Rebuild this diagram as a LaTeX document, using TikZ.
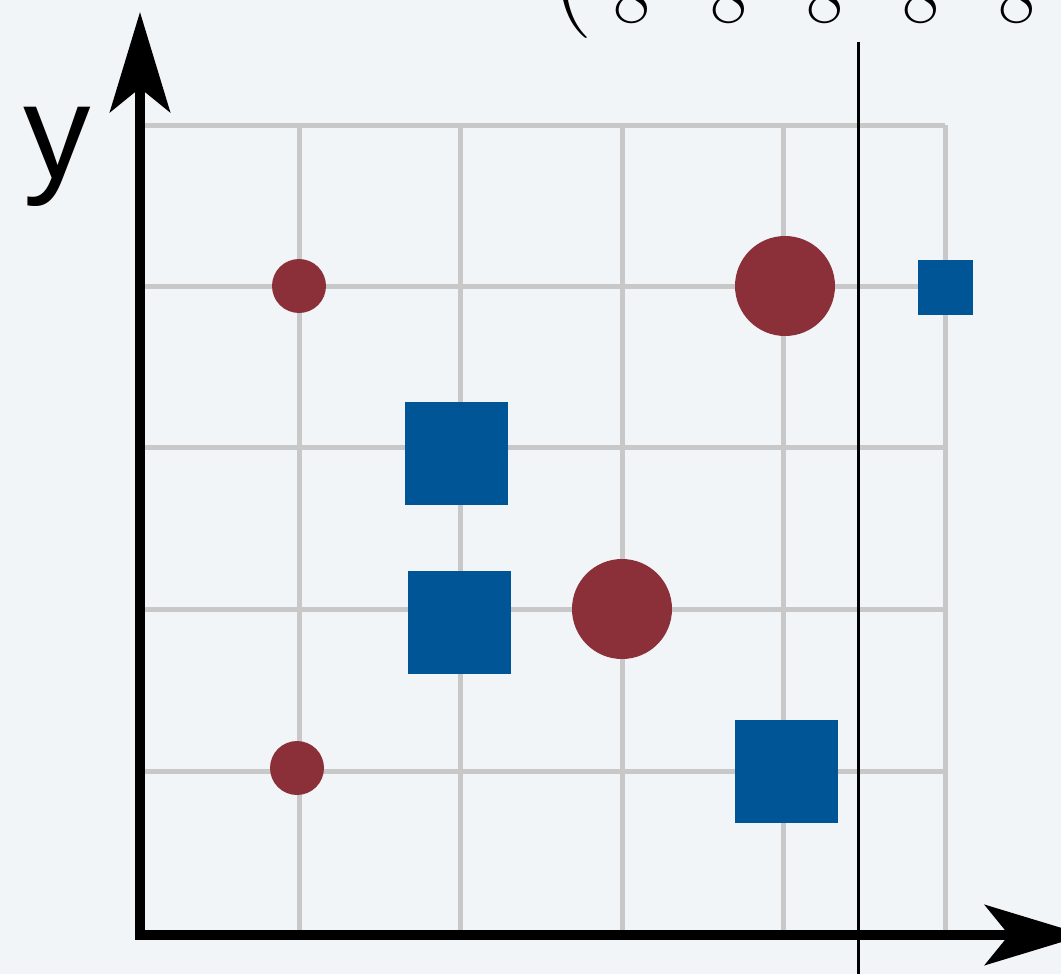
\documentclass[tikz,border=0pt]{standalone}
\usepackage{fontspec}
\newfontfamily\labelfont{Liberation Sans}
\usetikzlibrary{arrows.meta}
\definecolor{paperbg}{RGB}{242,245,248}
\definecolor{gridgray}{RGB}{200,200,200}
\definecolor{dotred}{RGB}{139,47,56}
\definecolor{boxblue}{RGB}{0,85,150}
\tikzset{
  gridline/.style={line width=5pt, color=gridgray},
  axisline/.style={line width=10pt, -{Stealth[length=100pt, width=60pt, inset=24pt]}},
  cutline/.style={line width=3pt, black},
  redpt/.style={circle, fill=dotred, inner sep=0pt, minimum size=#1},
  bluesq/.style={rectangle, fill=boxblue, inner sep=0pt, minimum size=#1},
  entry/.style={font=\fontsize{80}{80}\selectfont, anchor=base, inner sep=0pt},
}

\begin{document}
\begin{tikzpicture}[x=1pt, y=-1pt]

  \useasboundingbox (0,0) rectangle (1061,974);
  \clip (0,0) rectangle (1061,974);
  \fill[paperbg] (0,0) rectangle (1061,974);

  %% -- cropped matrix row at the top
  \node[entry, font=\fontsize{120}{120}\selectfont] (paren) at (572,9) {(};
  \foreach \i/\ex in {1/632, 2/729, 3/825, 4/921, 5/1017}
    \node[entry] (d\i) at (\ex,23) {8};

  %% -- grid
  \foreach \gx in {140,299,460,622,783,945}
    \draw[gridline] (\gx,125) -- (\gx,935);
  \foreach \gy in {125,286,447,609,771}
    \draw[gridline] (140,\gy) -- (945,\gy);

  %% -- axes
  \coordinate (origin) at (140,935);
  \coordinate (ytip) at (140,12);
  \coordinate (xtip) at (1085,935);
  \draw[axisline] ([yshift=-5pt]origin) -- (ytip);
  \draw[axisline] ([xshift=-5pt]origin) -- (xtip);
  \node[font=\labelfont\fontsize{135}{135}\selectfont, anchor=base] (ylab) at (57,178) {y};

  %% -- separator
  \coordinate (cuttop) at (858,42);
  \coordinate (cutbot) at (858,974);
  \draw[cutline] (cuttop) -- (cutbot);

  %% -- points
  \node[redpt=54pt] (r1) at (299,286) {};
  \node[redpt=100pt] (r2) at (785,286) {};
  \node[redpt=100pt] (r3) at (622,609) {};
  \node[redpt=54pt] (r4) at (297,768) {};

  \node[bluesq=55pt] (b1) at (945,287) {};
  \node[bluesq=103pt] (b2) at (456,453) {};
  \node[bluesq=103pt] (b3) at (459,622) {};
  \node[bluesq=103pt] (b4) at (786,771) {};

\end{tikzpicture}
\end{document}
